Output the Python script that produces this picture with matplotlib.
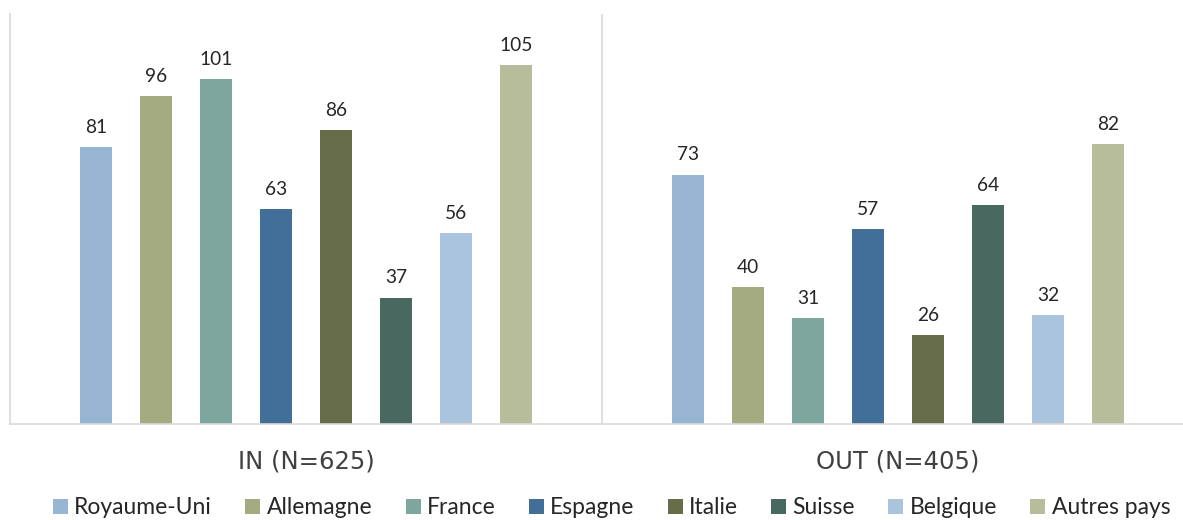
import numpy as np
import matplotlib
matplotlib.use("Agg")
import matplotlib.pyplot as plt
from matplotlib.patches import Patch

plt.rcParams['font.family'] = ['Lato', 'DejaVu Sans']

# data
countries = ["Royaume-Uni", "Allemagne", "France", "Espagne",
             "Italie", "Suisse", "Belgique", "Autres pays"]
groups = ["IN (N=625)", "OUT (N=405)"]
in_vals = [81, 96, 101, 63, 86, 37, 56, 105]
out_vals = [73, 40, 31, 57, 26, 64, 32, 82]
colors = ["#95B5D3", "#A5AB80", "#7EA69C", "#416F98",
          "#676D48", "#486860", "#A9C4DC", "#B7BD9A"]

W, H = 1183, 520
fig = plt.figure(figsize=(W / 100, H / 100), dpi=100)
ax = fig.add_axes([10 / W, 96 / H, 1 - 10 / W, (424 - 14) / H])

grp_w = 592 / 60.0   # width of one category block, in bar-step units
first = 86 / 60.0    # centre of first bar from block left edge
bw = 0.53

for g, vals in enumerate([in_vals, out_vals]):
    xs = g * grp_w + first + np.arange(len(vals))
    bars = ax.bar(xs, vals, width=bw, color=colors, edgecolor="none", zorder=2)
    for b, v in zip(bars, vals):
        ax.annotate(str(v), (b.get_x() + b.get_width() / 2, v),
                    xytext=(0, 8), textcoords="offset points",
                    ha="center", va="bottom", fontsize=13.8, color="#262626")

ax.set_xlim(0, (W - 10) / 60.0)
ax.set_ylim(0, 120)
ax.set_yticks([])
ax.set_xticks([])

# group labels under each block
for g, lab in enumerate(groups):
    ax.text(g * grp_w + grp_w / 2, -0.092, lab, transform=ax.get_xaxis_transform(),
            ha="center", va="center", fontsize=17.5, color="#404040",
            family="DejaVu Sans")

for s in ["top", "right"]:
    ax.spines[s].set_visible(False)
for s in ["left", "bottom"]:
    ax.spines[s].set_color("#D9D9D9")
    ax.spines[s].set_linewidth(1.2)
ax.axvline(grp_w, color="#D9D9D9", lw=1.2, zorder=1)

handles = [Patch(facecolor=c, edgecolor="none") for c in colors]
fig.legend(handles, countries, loc="center", ncol=len(countries),
           bbox_to_anchor=(0.517, 1 - 508 / H), frameon=False, fontsize=16.5,
           handlelength=0.66, handleheight=0.66, handletextpad=0.27,
           columnspacing=1.45, labelcolor="#262626",
           borderpad=0, borderaxespad=0)

fig.savefig("out.png", dpi=100)
